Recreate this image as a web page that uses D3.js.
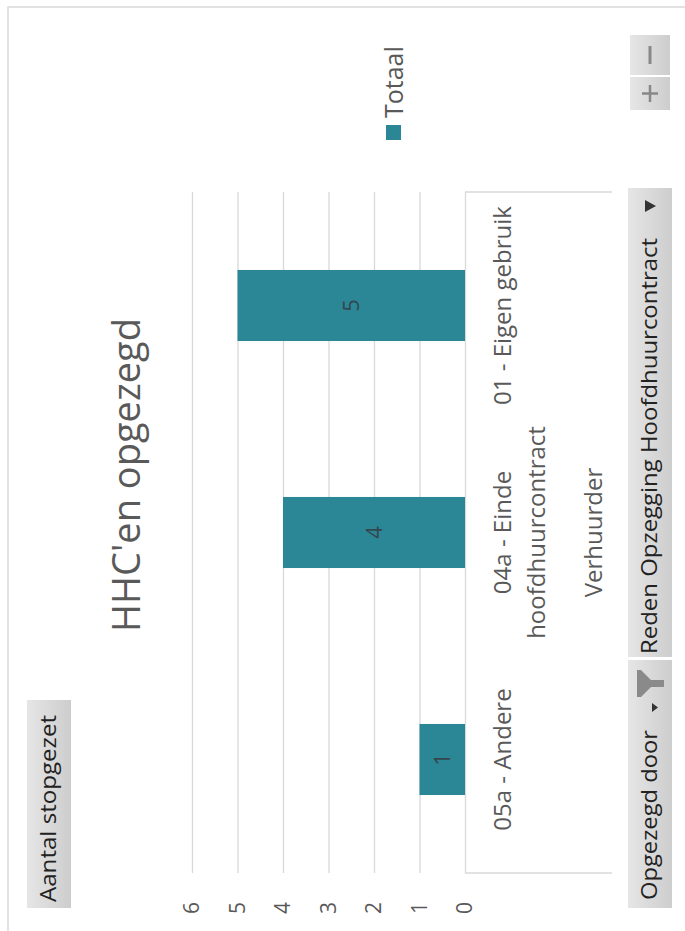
<!DOCTYPE html>
<html>
<head>
<meta charset="utf-8">
<script src="https://cdn.jsdelivr.net/npm/d3@7"></script>
<style>
body{margin:0;background:#fff;}
svg{display:block;font-family:"Open Sans",sans-serif;}
</style>
</head>
<body>
<svg id="chart" width="685" height="931"></svg>
<script>
// data
var categories = ["05a - Andere", "04a - Einde hoofdhuurcontract", "01 - Eigen gebruik"];
var categoryLines = [["05a - Andere"], ["04a - Einde", "hoofdhuurcontract"], ["01 - Eigen gebruik"]];
var outerLabel = "Verhuurder";
var totals = [1, 4, 5];
var valueTicks = [0, 1, 2, 3, 4, 5, 6];
var seriesName = "Totaal";
var chartTitle = "HHC'en opgezegd";
var valueField = "Aantal stopgezet";
var filterFields = ["Opgezegd door", "Reden Opzegging Hoofdhuurcontract"];

var W = 931, H = 685;
var teal = "#2b8795", grey = "#595959", gridCol = "#d9d9d9";

var svg = d3.select("#chart");

var defs = svg.append("defs");
var grad = defs.append("linearGradient").attr("id", "btn").attr("x1", 0).attr("y1", 0).attr("x2", 0).attr("y2", 1);
grad.append("stop").attr("offset", "0%").attr("stop-color", "#e6e6e6");
grad.append("stop").attr("offset", "100%").attr("stop-color", "#cdcdcd");

// the whole chart lies on its side (rotated a quarter turn)
var g = svg.append("g").attr("transform", "translate(0," + W + ") rotate(-90)");

// outer frame
g.append("rect")
  .attr("x", -10).attr("y", 8).attr("width", 934).attr("height", 700)
  .attr("fill", "none").attr("stroke", gridCol).attr("stroke-width", 1.5);

var x = d3.scaleBand()
  .domain(categories)
  .range([58, 739])
  .paddingInner(0.687)
  .paddingOuter(0.3435);

var y = d3.scaleLinear()
  .domain([0, 6])
  .range([465, 192]);

// gridlines
var grid = g.append("g")
  .attr("transform", "translate(58,0)")
  .call(d3.axisLeft(y).tickValues(valueTicks).tickSize(-681).tickFormat(""));
grid.select(".domain").remove();
grid.selectAll("line").attr("stroke", gridCol).attr("stroke-width", 1.3);

// value axis labels
var yAxis = g.append("g")
  .attr("transform", "translate(58,0)")
  .call(d3.axisLeft(y).tickValues(valueTicks).tickFormat(d3.format("d")).tickSize(0).tickPadding(29));
yAxis.select(".domain").remove();
yAxis.selectAll("text")
  .attr("font-size", 21)
  .attr("font-family", "Open Sans, sans-serif")
  .attr("fill", grey);

// category axis box
[58, 739].forEach(function(u){
  g.append("line")
    .attr("x1", u).attr("x2", u)
    .attr("y1", 465).attr("y2", 612)
    .attr("stroke", gridCol).attr("stroke-width", 1.3);
});

// bars
g.selectAll(".bar")
  .data(totals)
  .enter()
  .append("rect")
    .attr("class", "bar")
    .attr("x", function(d, i){ return x(categories[i]) })
    .attr("width", x.bandwidth())
    .attr("y", function(d){ return y(d) })
    .attr("height", function(d){ return y(0) - y(d) })
    .attr("fill", teal);

// data labels
g.selectAll(".lbl")
  .data(totals)
  .enter()
  .append("text")
    .attr("class", "lbl")
    .attr("x", function(d, i){ return x(categories[i]) + x.bandwidth() / 2 })
    .attr("y", function(d){ return (y(d) + y(0)) / 2 })
    .attr("dy", "0.35em")
    .attr("text-anchor", "middle")
    .attr("font-size", 22)
    .attr("fill", "#33464d")
    .text(function(d){ return d });

// category labels
var cat = g.selectAll(".cat")
  .data(categoryLines)
  .enter()
  .append("text")
    .attr("class", "cat")
    .attr("text-anchor", "middle")
    .attr("font-size", 24)
    .attr("fill", grey);
cat.each(function(lines, i){
  var cx = x(categories[i]) + x.bandwidth() / 2;
  d3.select(this).selectAll("tspan")
    .data(lines)
    .enter()
    .append("tspan")
      .attr("x", cx)
      .attr("y", function(d, j){ return 511 + j * 34 })
      .text(function(d){ return d });
});

g.append("text")
  .attr("x", (x.range()[0] + x.range()[1]) / 2)
  .attr("y", 602)
  .attr("text-anchor", "middle")
  .attr("font-size", 24)
  .attr("fill", grey)
  .text(outerLabel);

// title
g.append("text")
  .attr("x", 456)
  .attr("y", 140)
  .attr("text-anchor", "middle")
  .attr("font-size", 38)
  .attr("fill", grey)
  .text(chartTitle);

// legend
g.append("rect")
  .attr("x", 791).attr("y", 386).attr("width", 15).attr("height", 15)
  .attr("fill", teal);
g.append("text")
  .attr("x", 813).attr("y", 403)
  .attr("font-size", 25)
  .attr("fill", grey)
  .text(seriesName);

// field buttons (the screenshot stretches their captions, hence textLength)
function button(u, v, w, h){
  return g.append("rect")
    .attr("x", u).attr("y", v).attr("width", w).attr("height", h)
    .attr("fill", "url(#btn)");
}
function caption(u, v, len, txt){
  return g.append("text")
    .attr("x", u).attr("y", v)
    .attr("font-size", 21)
    .attr("fill", "#222")
    .attr("textLength", len)
    .attr("lengthAdjust", "spacingAndGlyphs")
    .text(txt);
}
button(23, 27, 208, 44);
caption(29, 56, 187, valueField);

button(23, 628, 248, 44);
caption(31, 657, 170, filterFields[0]);
// small dropdown arrow + funnel
g.append("path")
  .attr("d", "M219,652 L228,652 L223.5,658 Z")
  .attr("fill", "#333");
g.append("path")
  .attr("d", "M234,637 L261,637 L261,641 L251,651 L251,664 L244,664 L244,651 L234,641 Z")
  .attr("fill", "#8a8a8a");

button(274, 628, 469, 44);
caption(277, 657, 416, filterFields[1]);
g.append("path")
  .attr("d", "M719,645 L731,645 L725,656 Z")
  .attr("fill", "#333");

// zoom buttons
button(821, 630, 33, 40);
button(856, 630, 40, 40);
g.append("path")
  .attr("d", "M829,650 L846,650 M837.5,642 L837.5,658")
  .attr("stroke", "#888").attr("stroke-width", 2.5);
g.append("path")
  .attr("d", "M867,650 L885,650")
  .attr("stroke", "#888").attr("stroke-width", 3);
</script>
</body>
</html>
